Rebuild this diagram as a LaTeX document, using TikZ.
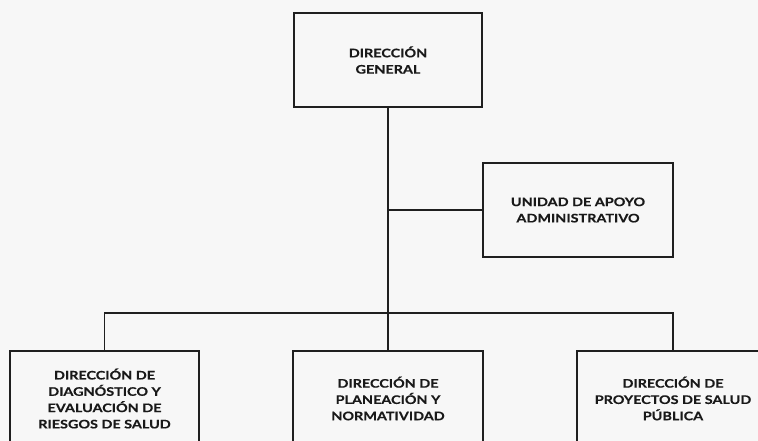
\documentclass[tikz,border=0pt]{standalone}
\usepackage{fontspec}
\setmainfont{Lato}
\newfontfamily\boxfont{Lato Bold}[FakeStretch=1.22, FakeBold=0.4]
\begin{document}
\begin{tikzpicture}[x=1pt,y=-1pt,
  unitbox/.style={draw=black!88, line width=1.8pt, rectangle, align=center,
    font=\boxfont\fontsize{11.8}{16.3}\selectfont, text=black!90, inner sep=0pt},
  link/.style={draw=black!88, line width=1.8pt}]
\useasboundingbox (0,0) rectangle (758,441);
\fill[white!97!black] (0,0) rectangle (758,441);
\clip (0,0) rectangle (758,441);
\node[unitbox, minimum width=188pt, minimum height=94pt] (gen) at (388,60) {DIRECCIÓN\\GENERAL};
\node[unitbox, minimum width=190pt, minimum height=94pt] (unit) at (578,210) {UNIDAD DE APOYO\\ADMINISTRATIVO};
\node[unitbox, minimum width=189pt, minimum height=95pt] (left) at (104.5,398.5) {DIRECCIÓN DE\\DIAGNÓSTICO Y\\EVALUACIÓN DE\\RIESGOS DE SALUD};
\node[unitbox, minimum width=190pt, minimum height=95pt] (mid) at (388,398.5) {DIRECCIÓN DE\\PLANEACIÓN Y\\NORMATIVIDAD};
\node[unitbox, minimum width=192pt, minimum height=95pt] (right) at (673,398.5) {DIRECCIÓN DE\\PROYECTOS DE SALUD\\PÚBLICA};
\coordinate (bus) at (388,313);
\draw[link] (gen.south) -- (mid.north);
\draw[link] (unit.west) -- (unit.west -| gen.south);
\draw[link] (left.north) -- (left.north |- bus) -- (right.north |- bus) -- (right.north);
\end{tikzpicture}
\end{document}
